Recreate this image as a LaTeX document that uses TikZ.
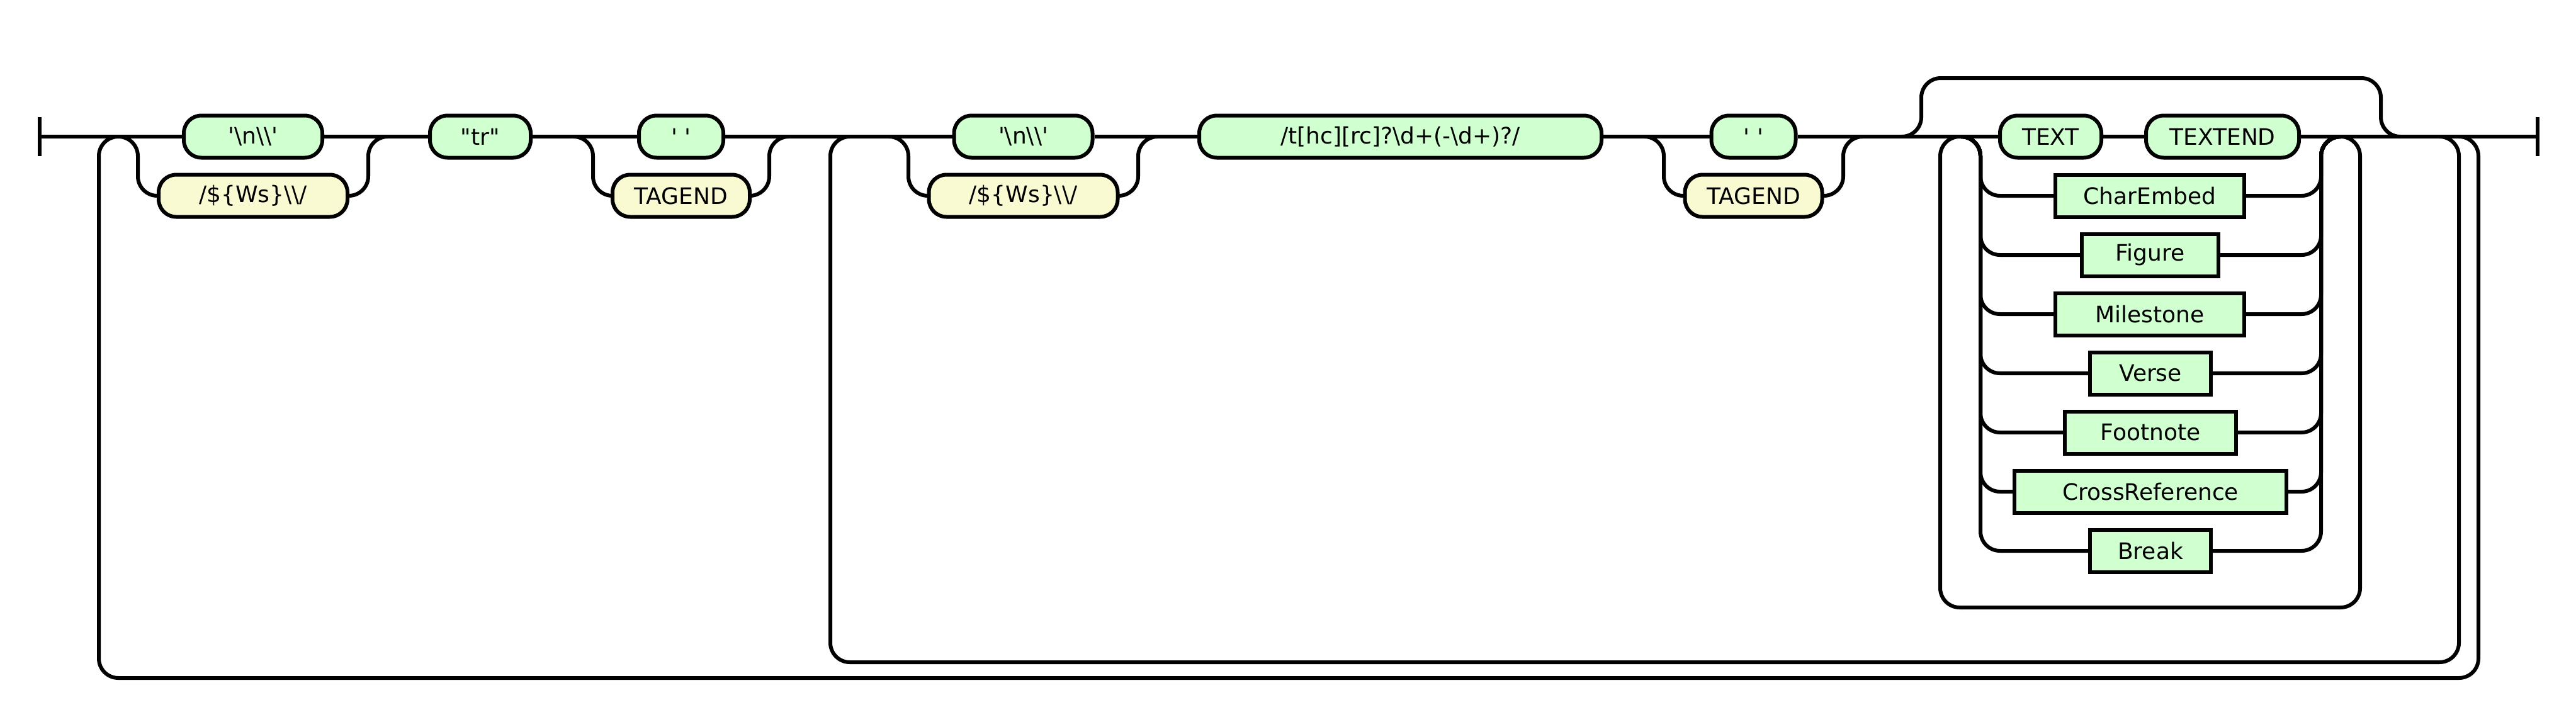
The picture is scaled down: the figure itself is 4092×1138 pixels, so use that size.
\documentclass[tikz,border=0pt]{standalone}
\usepackage{fontspec}
\setmainfont{DejaVu Sans}
\definecolor{termfill}{RGB}{208,255,208}
\definecolor{regexfill}{RGB}{250,250,210}
\newcommand{\bs}{\textbackslash}
\newcommand{\sq}{\textquotesingle}
\begin{document}
\begin{tikzpicture}[x=0.25pt, y=-0.25pt, line width=1.5pt, rounded corners=7.75pt,
		box/.style={draw, line width=1.5pt, minimum height=16.75pt, inner sep=0pt, font=\fontsize{9}{10}\selectfont},
		term/.style={box, fill=termfill, rounded corners=7pt},
		regex/.style={box, fill=regexfill, rounded corners=7pt},
		rule/.style={box, fill=termfill, sharp corners}]
	\useasboundingbox (0,0) rectangle (4092,1138);
	\coordinate (start) at (63,217);
	\coordinate (end) at (4031,217);
	\node[term, minimum width=55pt] (nl1) at (402,217) {\sq\bs n\bs\bs\sq};
	\node[regex, minimum width=75pt] (ws1) at (402,311) {/\$\{Ws\}\bs\bs/};
	\node[term, minimum width=40pt] (tr) at (763,217) {\textquotedbl tr\textquotedbl};
	\node[term, minimum width=33.5pt] (sp1) at (1082,217) {\sq\ \sq};
	\node[regex, minimum width=54.5pt] (tag1) at (1082,311) {TAGEND};
	\node[term, minimum width=55pt] (nl2) at (1625.5,217) {\sq\bs n\bs\bs\sq};
	\node[regex, minimum width=75pt] (ws2) at (1625.5,311) {/\$\{Ws\}\bs\bs/};
	\node[term, minimum width=159.75pt] (rx) at (2224.5,217) {/t[hc][rc]?\bs d+(-\bs d+)?/};
	\node[term, minimum width=33.5pt] (sp2) at (2785.5,217) {\sq\ \sq};
	\node[regex, minimum width=54.5pt] (tag2) at (2785.5,311) {TAGEND};
	\node[term, minimum width=40.25pt] (text) at (3257.5,217) {TEXT};
	\node[term, minimum width=60.75pt] (textend) at (3530.5,217) {TEXTEND};
	\node[rule, minimum width=75pt] (ce) at (3415,311) {CharEmbed};
	\node[rule, minimum width=54.25pt] (fig) at (3415.5,405) {Figure};
	\node[rule, minimum width=75pt] (mil) at (3415,499) {Milestone};
	\node[rule, minimum width=48pt] (vrs) at (3416,593) {Verse};
	\node[rule, minimum width=68pt] (fn) at (3416,687) {Footnote};
	\node[rule, minimum width=108pt] (xr) at (3416,781) {CrossReference};
	\node[rule, minimum width=48pt] (brk) at (3416,875) {Break};
	\coordinate (a0) at (188,217); \coordinate (a1) at (219,217); \coordinate (a2) at (585,217); \coordinate (a3) at (616,217);
	\coordinate (b0) at (912,217); \coordinate (b1) at (942,217); \coordinate (b2) at (1222,217); \coordinate (b3) at (1252,217);
	\coordinate (c0) at (1413,217); \coordinate (c1) at (1443,217); \coordinate (c2) at (1808,217); \coordinate (c3) at (1838,217);
	\coordinate (d0) at (2612,217); \coordinate (d1) at (2643,217); \coordinate (d2) at (2928,217); \coordinate (d3) at (2959,217);
	\coordinate (f0) at (3115,217); \coordinate (f1) at (3146,217); \coordinate (f2) at (3687,217); \coordinate (f3) at (3718,217);
	\draw ([yshift=7.75pt]start) -- ([yshift=-7.75pt]start) ([yshift=7.75pt]end) -- ([yshift=-7.75pt]end);
	\draw (start) -- (nl1.west) (nl1.east) -- (tr.west) (tr.east) -- (sp1.west) (sp1.east) -- (nl2.west)
		(nl2.east) -- (rx.west) (rx.east) -- (sp2.west) (sp2.east) -- (text.west) (text.east) -- (textend.west) (textend.east) -- (end);
	\draw (a0) -| (a1 |- ws1.west) -- (ws1.west) (ws1.east) -- (a2 |- ws1.east) |- (a3);
	\draw (b0) -| (b1 |- tag1.west) -- (tag1.west) (tag1.east) -- (b2 |- tag1.east) |- (b3);
	\draw (c0) -| (c1 |- ws2.west) -- (ws2.west) (ws2.east) -- (c2 |- ws2.east) |- (c3);
	\draw (d0) -| (d1 |- tag2.west) -- (tag2.west) (tag2.east) -- (d2 |- tag2.east) |- (d3);
	\foreach \n in {ce,fig,mil,vrs,fn,xr,brk}
		\draw (f0) -| (f1 |- \n.west) -- (\n.west) (\n.east) -- (f2 |- \n.east) |- (f3);
	\draw (3021,217) -| (3052,124) -| (3782,217) -- (3812,217);
	\draw (f3) -| (3749,965) -| (3082,217) -- (3113,217);
	\draw (3875,217) -| (3906,1052) -| (1319,217) -- (1350,217);
	\draw (3906,217) -| (3937,1077) -| (157,217) -- (a0);
\end{tikzpicture}
\end{document}
